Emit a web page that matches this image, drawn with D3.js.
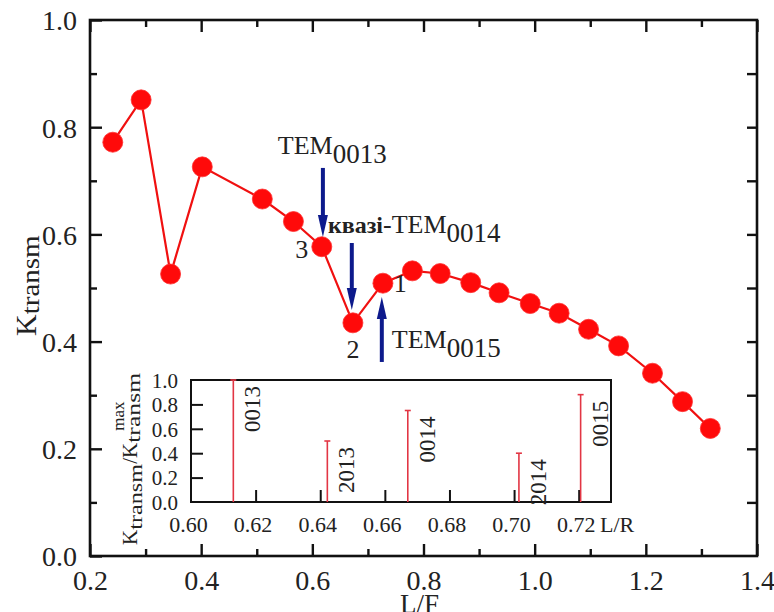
<!DOCTYPE html>
<html>
<head>
<meta charset="utf-8">
<script src="https://cdn.jsdelivr.net/npm/d3@7"></script>
<style>
  html, body { margin: 0; padding: 0; background: #fff; }
  svg text { font-family: "Liberation Serif", "Times New Roman", serif; fill: #222; }
</style>
</head>
<body>
<svg id="chart" width="774" height="612"></svg>
<script>
// ---- Main series: K_transm vs L/F ----
const lfValues = [0.241, 0.292, 0.345, 0.402, 0.510, 0.566, 0.617, 0.673, 0.727, 0.780,
                  0.830, 0.885, 0.936, 0.992, 1.044, 1.097, 1.151, 1.212, 1.266, 1.316];
const kValues  = [0.772, 0.851, 0.526, 0.726, 0.666, 0.624, 0.577, 0.435, 0.509, 0.532,
                  0.527, 0.510, 0.491, 0.471, 0.453, 0.423, 0.392, 0.341, 0.288, 0.238];
const mainXTicks = [0.2, 0.4, 0.6, 0.8, 1.0, 1.2, 1.4];
const mainYTicks = [0.0, 0.2, 0.4, 0.6, 0.8, 1.0];

// ---- Inset: normalised K_transm vs L/R ----
const modeNames  = ["0013", "2013", "0014", "2014", "0015"];
const modeLR     = [0.6131, 0.6422, 0.6671, 0.7015, 0.7206];
const modeKnorm  = [1.00, 0.50, 0.75, 0.40, 0.88];
const insetXTicks = [0.60, 0.62, 0.64, 0.66, 0.68, 0.70, 0.72];
const insetYTicks = [0.0, 0.2, 0.4, 0.6, 0.8, 1.0];

// ---- Annotations (data coordinates) ----
const arrowX    = [0.619, 0.671, 0.725];
const arrowFrom = [0.724, 0.584, 0.362];
const arrowTo   = [0.595, 0.459, 0.483];
const pointLabels = ["3", "2", "1"];
const pointLabelX = [0.581, 0.673, 0.758];
const pointLabelY = [0.556, 0.370, 0.4925];

const FONT = '"Liberation Serif", "Times New Roman", serif';
const svg = d3.select("#chart");

// main plot area
const mL = 90, mR = 757, mT = 20, mB = 556;
const x = d3.scaleLinear().domain([0.2, 1.4]).range([mL, mR]);
const y = d3.scaleLinear().domain([0, 1]).range([mB, mT]);

const gMain = svg.append("g");

gMain.append("rect").attr("x", mL).attr("y", mT).attr("width", mR - mL).attr("height", mB - mT)
  .attr("fill", "none").attr("stroke", "#111").attr("stroke-width", 2.6);

const minorX = d3.range(0.3, 1.4, 0.2).map(v => +v.toFixed(2));
const minorY = d3.range(0.1, 1.0, 0.2).map(v => +v.toFixed(2));
const allY = d3.range(0.1, 1.0, 0.1).map(v => +v.toFixed(2));

function styleAxis(g) {
  g.attr("font-family", FONT);
  g.select(".domain").remove();
  g.selectAll(".tick line").attr("stroke", "#111").attr("stroke-width", 2.4);
}

// bottom
const gB = gMain.append("g").attr("transform", `translate(0,${mB})`)
  .call(d3.axisBottom(x).tickValues(mainXTicks).tickSize(-12).tickFormat(d3.format(".1f")));
styleAxis(gB);
gB.selectAll("text").attr("y", 34).attr("dy", null).style("font-size", "28px")
  .style("font-family", FONT).attr("fill", "#222");
gMain.append("g").attr("transform", `translate(0,${mB})`)
  .call(d3.axisBottom(x).tickValues(minorX).tickSize(-7).tickFormat("")).call(styleAxis);
// top
gMain.append("g").attr("transform", `translate(0,${mT})`)
  .call(d3.axisTop(x).tickValues(mainXTicks).tickSize(-12).tickFormat("")).call(styleAxis);
gMain.append("g").attr("transform", `translate(0,${mT})`)
  .call(d3.axisTop(x).tickValues(minorX).tickSize(-7).tickFormat("")).call(styleAxis);
// left
const gL = gMain.append("g").attr("transform", `translate(${mL},0)`)
  .call(d3.axisLeft(y).tickValues(mainYTicks).tickSize(-12).tickFormat(d3.format(".1f")));
styleAxis(gL);
gL.selectAll("text").attr("x", -13).attr("dy", "0.35em").style("font-size", "28px")
  .style("font-family", FONT).attr("fill", "#222");
gMain.append("g").attr("transform", `translate(${mL},0)`)
  .call(d3.axisLeft(y).tickValues(minorY).tickSize(-7).tickFormat("")).call(styleAxis);
// right
gMain.append("g").attr("transform", `translate(${mR},0)`)
  .call(d3.axisRight(y).tickValues(allY).tickSize(-10).tickFormat("")).call(styleAxis);

// axis titles
gMain.append("text").attr("x", x(0.8) - 4).attr("y", 613).attr("text-anchor", "middle")
  .style("font-size", "27px").text("L/F");

const yTitle = gMain.append("g").attr("transform", "translate(36,336) rotate(-90)");
const yt = yTitle.append("text").attr("x", 0).attr("y", 0);
yt.append("tspan").style("font-size", "30px").text("K");
yt.append("tspan").attr("dy", 3).style("font-size", "25px")
  .attr("textLength", 79).attr("lengthAdjust", "spacingAndGlyphs").text("transm");

// line + markers
const pts = lfValues.map((v, i) => [v, kValues[i]]);
gMain.append("path").datum(pts)
  .attr("d", d3.line().x(d => x(d[0])).y(d => y(d[1])))
  .attr("fill", "none").attr("stroke", "#f01010").attr("stroke-width", 2.2);
gMain.selectAll("circle.pt").data(pts).enter().append("circle").attr("class", "pt")
  .attr("cx", d => x(d[0])).attr("cy", d => y(d[1])).attr("r", 10)
  .attr("fill", "#ff0a0a").attr("stroke", "#ff3030").attr("stroke-width", 0.8);

// arrows
arrowX.forEach((ax, i) => {
  const px = x(ax), y0 = y(arrowFrom[i]), y1 = y(arrowTo[i]);
  const dir = y1 > y0 ? 1 : -1;
  const headLen = 22, headW = 5;
  gMain.append("line").attr("x1", px).attr("x2", px).attr("y1", y0).attr("y2", y1 - dir * headLen * 0.6)
    .attr("stroke", "#0d1a8c").attr("stroke-width", 4);
  gMain.append("path")
    .attr("d", `M${px - headW},${y1 - dir * headLen} L${px + headW},${y1 - dir * headLen} L${px},${y1} Z`)
    .attr("fill", "#0d1a8c");
});

// point labels 3, 2, 1
pointLabels.forEach((t, i) => {
  gMain.append("text").attr("x", x(pointLabelX[i])).attr("y", y(pointLabelY[i]))
    .attr("text-anchor", "middle").style("font-size", "26px").text(t);
});

// mode labels
function temLabel(px, py, prefix, sub) {
  const t = gMain.append("text").attr("x", px).attr("y", py).style("font-size", "26px");
  if (prefix) t.append("tspan").style("font-weight", "bold").style("font-size", "24px").text(prefix);
  t.append("tspan").text((prefix ? "-" : "") + "TEM");
  t.append("tspan").attr("dy", 9).style("font-size", "27px").text(sub);
}
temLabel(x(0.538), y(0.75), "", "0013");
temLabel(x(0.628), y(0.603), "квазі", "0014");
temLabel(x(0.743), y(0.388), "", "0015");

// ---- inset ----
const iL = 191, iR = 611, iT = 380, iB = 502;
const xi = d3.scaleLinear().domain([0.60, 0.73]).range([iL, iR]);
const yi = d3.scaleLinear().domain([0, 1]).range([iB, iT]);
const gIn = svg.append("g");
gIn.append("rect").attr("x", iL).attr("y", iT).attr("width", iR - iL).attr("height", iB - iT)
  .attr("fill", "#fff").attr("stroke", "#111").attr("stroke-width", 2);

const giB = gIn.append("g").attr("transform", `translate(0,${iB})`)
  .call(d3.axisBottom(xi).tickValues(insetXTicks).tickSize(-12).tickFormat(d3.format(".2f")));
giB.attr("font-family", FONT);
giB.select(".domain").remove();
giB.selectAll(".tick line").attr("stroke", "#111").attr("stroke-width", 2)
  .filter(d => d === 0.60).remove();
giB.selectAll("text").attr("y", 30).attr("dy", null).attr("x", -3).style("font-size", "22px")
  .style("font-family", FONT).attr("fill", "#222");
gIn.append("text").attr("x", 600).attr("y", 532).style("font-size", "22px").text("L/R");

const giL = gIn.append("g").attr("transform", `translate(${iL},0)`)
  .call(d3.axisLeft(yi).tickValues(insetYTicks).tickSize(-12).tickFormat(d3.format(".1f")));
giL.attr("font-family", FONT);
giL.select(".domain").remove();
giL.selectAll(".tick line").attr("stroke", "#111").attr("stroke-width", 2)
  .filter(d => d === 0 || d === 1).remove();
giL.selectAll("text").attr("x", -13).attr("dy", "0.35em").style("font-size", "21px")
  .style("font-family", FONT).attr("fill", "#222");

// stems
modeLR.forEach((lr, i) => {
  const sx = xi(lr), sy = yi(modeKnorm[i]);
  gIn.append("line").attr("x1", sx).attr("x2", sx).attr("y1", iB).attr("y2", sy)
    .attr("stroke", "#e23644").attr("stroke-width", 1.6);
  gIn.append("line").attr("x1", sx - 3).attr("x2", sx + 3).attr("y1", sy).attr("y2", sy)
    .attr("stroke", "#e23644").attr("stroke-width", 1.6);
  gIn.append("text").attr("transform", `translate(${sx + 27},${sy + 6}) rotate(-90)`)
    .attr("text-anchor", "end").style("font-size", "23px").text(modeNames[i]);
});

// inset y title
const it = gIn.append("g").attr("transform", "translate(137,545) rotate(-90)");
let cx = 0;
function piece(txt, size, dy, len) {
  const t = it.append("text").attr("x", cx).attr("y", dy).style("font-size", size + "px").text(txt);
  if (len) t.attr("textLength", len).attr("lengthAdjust", "spacingAndGlyphs");
  const w = len || t.node().getComputedTextLength();
  return w;
}
cx += piece("K", 21, 0);
cx += piece("transm", 19, 5, 66);
cx += piece("/", 21, 0);
cx += piece("K", 21, 0);
const stackStart = cx;
piece("transm", 19, 3, 70);
cx = stackStart + 12;
piece("max", 17, -13);
</script>
</body>
</html>
